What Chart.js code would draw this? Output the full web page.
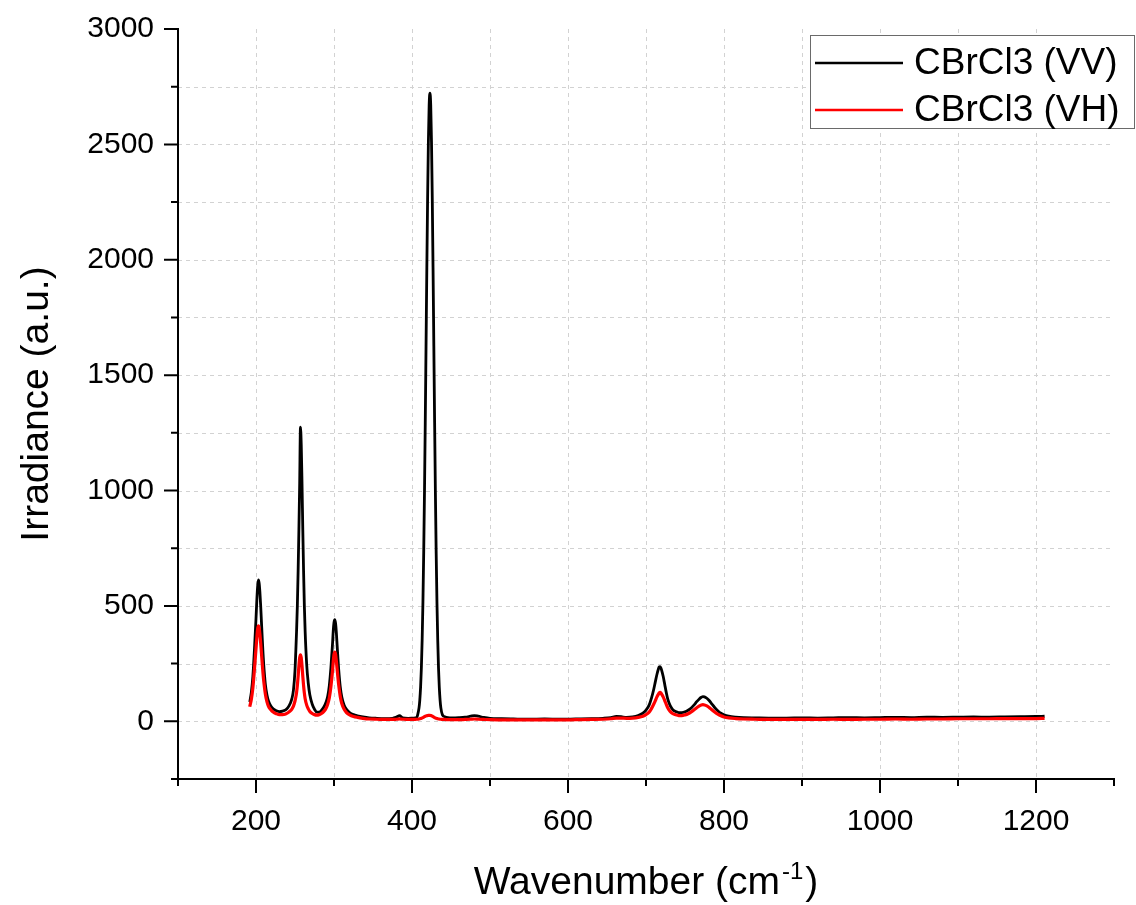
<!DOCTYPE html>
<html><head><meta charset="utf-8">
<script src="https://cdn.jsdelivr.net/npm/chart.js@4.4.0/dist/chart.umd.min.js"></script>
<style>html,body{margin:0;padding:0;background:#fff;} #wrap{width:1136px;height:905px;position:relative;}</style>
</head><body><div id="wrap"><canvas id="c" width="1136" height="905"></canvas></div>
<script>
// ---- data ----
const wavenumbers = [
  192,194,196,198,200,201,202,203,204,205,
  206,207,208,209,210,212,214,216,219,222,
  226,230,234,238,241,244,246,248,250,251,
  252,253,254,255,256,257,258,259,260,261,
  262,263,265,267,269,272,275,278,281,284,
  287,290,292,294,296,298,299,300,301,302,
  303,304,305,306,308,310,313,316,320,325,
  330,337,345,355,365,375,380,384,388,395,
  402,406,407,409,410,411,412,413,414,415,
  416,417,418,419,420,421,422,423,424,425,
  426,427,428,429,430,431,432,433,434,435,
  436,437,439,442,446,452,460,468,475,480,
  485,492,500,515,530,550,570,590,610,630,
  645,655,662,668,675,683,690,696,700,704,
  707,710,712,714,716,717,718,719,720,722,
  724,726,728,731,734,738,742,746,750,754,
  758,762,765,768,771,773,775,778,781,784,
  788,792,796,800,806,815,825,840,860,880,
  900,920,940,960,980,1000,1020,1040,1060,1080,
  1100,1120,1140,1160,1180,1200,1211
];
const vvIrradiance = [
  84,125,195,310,445,520,580,613,600,560,
  500,430,360,295,240,160,115,88,66,54,
  46,42,44,50,60,78,98,135,220,300,
  390,500,650,830,1030,1275,1200,1030,830,650,
  500,390,245,165,115,75,52,40,40,48,
  62,85,110,155,230,330,390,428,440,425,
  385,330,275,225,150,105,70,52,38,29,
  24,19,15,13,12,13,18,24,15,13,
  14,16,25,58,92,147,230,351,514,728,
  990,1294,1625,1958,2263,2510,2672,2722,2672,2510,
  2263,1958,1625,1294,990,728,514,351,230,147,
  92,58,28,20,16,15,16,18,22,25,
  22,17,13,11,10,9,10,9,10,11,
  13,16,21,20,17,19,25,35,48,70,
  100,140,172,203,228,236,237,232,222,195,
  160,125,95,68,52,42,38,38,41,48,
  58,72,85,96,104,107,106,100,90,77,
  60,46,35,28,22,18,16,15,14,14,
  15,14,15,16,15,16,17,16,18,17,
  18,19,18,19,20,21,22
];
const vhIrradiance = [
  63,95,145,225,315,360,398,414,405,378,
  340,295,250,208,172,118,85,65,50,40,
  33,29,29,32,37,45,53,66,88,104,
  125,155,195,240,275,288,275,240,195,155,
  122,98,70,54,43,34,29,27,29,34,
  43,58,75,102,150,215,258,290,300,290,
  262,226,190,158,108,77,52,38,28,21,
  17,13,10,9,8,8,9,10,9,8,
  8,9,9,10,11,12,13,15,16,18,
  20,22,23,24,25,26,26,26,25,24,
  22,20,18,16,14,13,12,11,10,10,
  9,9,8,8,7,7,7,8,9,10,
  9,8,7,6,6,6,6,6,7,8,
  9,11,14,14,13,14,17,22,29,40,
  55,75,90,106,118,123,125,123,118,106,
  90,73,58,43,34,28,25,25,28,33,
  41,51,59,66,71,72,71,67,60,51,
  40,31,24,19,15,12,10,9,8,8,
  8,8,9,8,9,9,10,9,10,10,
  11,11,11,12,12,12,13
];
const seriesLabels = ['CBrCl3 (VV)', 'CBrCl3 (VH)'];
const xMajorTicks = [200, 400, 600, 800, 1000, 1200];
const xMinorTicks = [100, 300, 500, 700, 900, 1100, 1300];
const yMajorTicks = [0, 500, 1000, 1500, 2000, 2500, 3000];
const yMinorTicks = [-250, 250, 750, 1250, 1750, 2250, 2750];
const xTitleMain = 'Wavenumber (cm';
const xTitleSup = '-1';
const xTitleEnd = ')';
const yTitle = 'Irradiance (a.u.)';

// ---- drawing ----
const FONT = '"Liberation Sans", Arial, sans-serif';
const toPoints = ys => wavenumbers.map((x, i) => ({x: x, y: ys[i]}));

const decor = {
  id: 'decor',
  beforeDatasetsDraw(chart) {
    const {ctx, chartArea: a, scales: {x, y}} = chart;
    ctx.save();
    ctx.strokeStyle = '#d2d2d2';
    ctx.lineWidth = 1;
    ctx.setLineDash([4, 4]);
    xMajorTicks.concat(xMinorTicks).filter(v => v > x.min && v < x.max).forEach(v => {
      const p = Math.round(x.getPixelForValue(v)) + 0.5;
      ctx.beginPath(); ctx.moveTo(p, a.top); ctx.lineTo(p, a.bottom); ctx.stroke();
    });
    yMajorTicks.concat(yMinorTicks).filter(v => v > y.min && v < y.max).forEach(v => {
      const p = Math.round(y.getPixelForValue(v)) + 0.5;
      ctx.beginPath(); ctx.moveTo(a.left, p); ctx.lineTo(a.right, p); ctx.stroke();
    });
    ctx.restore();
  },
  afterDatasetsDraw(chart) {
    const {ctx, chartArea: a, scales: {x, y}} = chart;
    ctx.save();
    ctx.setLineDash([]);
    ctx.strokeStyle = '#000';
    ctx.lineWidth = 2;
    ctx.lineCap = 'butt';
    // axes
    ctx.beginPath();
    ctx.moveTo(a.left, a.top - 1); ctx.lineTo(a.left, a.bottom + 1);
    ctx.moveTo(a.left - 1, a.bottom); ctx.lineTo(a.right + 1, a.bottom);
    ctx.stroke();
    // ticks
    ctx.beginPath();
    xMajorTicks.forEach(v => { const p = x.getPixelForValue(v); ctx.moveTo(p, a.bottom); ctx.lineTo(p, a.bottom + 14); });
    xMinorTicks.forEach(v => { const p = x.getPixelForValue(v); ctx.moveTo(p, a.bottom); ctx.lineTo(p, a.bottom + 7); });
    yMajorTicks.forEach(v => { const p = y.getPixelForValue(v); ctx.moveTo(a.left, p); ctx.lineTo(a.left - 14, p); });
    yMinorTicks.forEach(v => { const p = y.getPixelForValue(v); ctx.moveTo(a.left, p); ctx.lineTo(a.left - 7, p); });
    ctx.stroke();

    // legend
    const lx = 810.5, ly = 35.5, lw = 324, lh = 93;
    ctx.fillStyle = '#fff';
    ctx.fillRect(lx, ly, lw, lh);
    ctx.strokeStyle = '#6a6a6a';
    ctx.lineWidth = 1;
    ctx.strokeRect(lx, ly, lw, lh);
    ctx.font = '37px ' + FONT;
    ctx.textAlign = 'left';
    ctx.textBaseline = 'middle';
    chart.data.datasets.forEach((ds, i) => {
      const yy = 63 + i * 47;
      ctx.strokeStyle = ds.borderColor;
      ctx.lineWidth = 2.5;
      ctx.beginPath(); ctx.moveTo(815, yy); ctx.lineTo(903, yy); ctx.stroke();
      ctx.fillStyle = '#000';
      ctx.fillText(ds.label, 914, yy + 1);
    });

    // x title with superscript
    const fMain = '39px ' + FONT, fSup = '24px ' + FONT;
    ctx.font = fMain; const w1 = ctx.measureText(xTitleMain).width; const w3 = ctx.measureText(xTitleEnd).width;
    ctx.font = fSup; const w2 = ctx.measureText(xTitleSup).width;
    const gap = 2;
    const total = w1 + gap + w2 + gap + w3;
    let tx = (a.left + a.right) / 2 - total / 2;
    const base = 894;
    ctx.fillStyle = '#000';
    ctx.textBaseline = 'alphabetic';
    ctx.font = fMain; ctx.fillText(xTitleMain, tx, base); tx += w1 + gap;
    ctx.font = fSup; ctx.fillText(xTitleSup, tx, base - 15); tx += w2 + gap;
    ctx.font = fMain; ctx.fillText(xTitleEnd, tx, base);

    // y title
    ctx.save();
    ctx.translate(48, (a.top + a.bottom) / 2);
    ctx.rotate(-Math.PI / 2);
    ctx.font = fMain;
    ctx.textAlign = 'center';
    ctx.textBaseline = 'alphabetic';
    ctx.fillText(yTitle, 0, 0);
    ctx.restore();

    ctx.restore();
  }
};

new Chart(document.getElementById('c'), {
  type: 'line',
  data: {
    datasets: [
      {label: seriesLabels[0], data: toPoints(vvIrradiance), borderColor: '#000000', borderWidth: 2.8, pointRadius: 0, cubicInterpolationMode: 'monotone', order: 2, borderJoinStyle: 'round'},
      {label: seriesLabels[1], data: toPoints(vhIrradiance), borderColor: '#ff0000', borderWidth: 3.2, pointRadius: 0, cubicInterpolationMode: 'monotone', order: 1, borderJoinStyle: 'round'}
    ]
  },
  options: {
    responsive: false,
    animation: false,
    devicePixelRatio: 1,
    layout: {padding: {top: 29, right: 22, left: 0, bottom: 0}},
    plugins: {legend: {display: false}, tooltip: {enabled: false}},
    scales: {
      x: {
        type: 'linear', min: 100, max: 1300,
        grid: {display: false}, border: {display: false},
        afterFit: s => { s.height = 126; s.paddingLeft = 0; s.paddingRight = 0; },
        ticks: {
          stepSize: 100, autoSkip: false, maxRotation: 0, padding: 17,
          color: '#000', font: {family: FONT, size: 30},
          callback: v => xMajorTicks.includes(v) ? String(v) : ''
        }
      },
      y: {
        type: 'linear', min: -250, max: 3000,
        grid: {display: false}, border: {display: false},
        afterFit: s => { s.width = 178; s.paddingTop = 0; s.paddingBottom = 0; },
        ticks: {
          stepSize: 250, autoSkip: false, padding: 16,
          color: '#000', font: {family: FONT, size: 30},
          callback: v => yMajorTicks.includes(v) ? String(v) : ''
        }
      }
    }
  },
  plugins: [decor]
});
</script>
</body></html>
